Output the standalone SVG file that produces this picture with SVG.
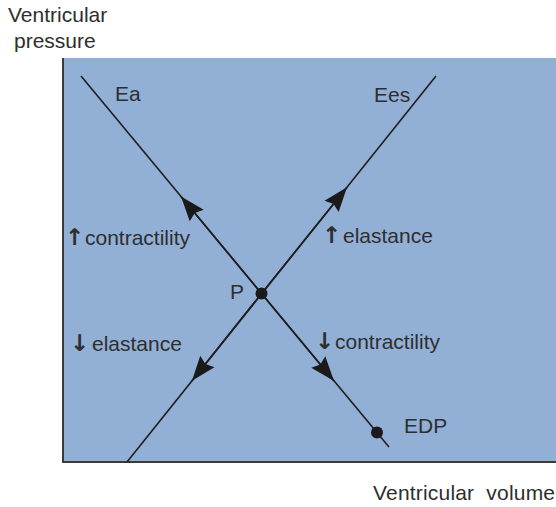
<svg xmlns="http://www.w3.org/2000/svg" width="556" height="507" viewBox="0 0 556 507">
<style>
  text { font-family: "Liberation Sans", Arial, sans-serif; font-size: 21px; fill: #2e2e2e; }
  .arr { font-family: "DejaVu Sans", sans-serif; font-size: 23px; font-weight: bold; }
  .curve { stroke: #1e1e1e; stroke-width: 1.6; fill: none; }
  .axis { stroke: #3a3a3a; stroke-width: 2; fill: none; }
  .dot { fill: #1a1a1a; }
</style>
<defs>
  <marker id="ah" markerUnits="userSpaceOnUse" markerWidth="30" markerHeight="30" viewBox="-24 -10 28 20" refX="0" refY="0" orient="auto">
    <path d="M0,0 L-23,-8.5 L-20,0 L-23,8.5 Z" fill="#1a1a1a"/>
  </marker>
</defs>
<rect id="panel" x="63" y="58" width="493" height="404" fill="#92b0d6"/>
<g id="axes">
  <line class="axis" x1="63" y1="58" x2="63" y2="463"/>
  <line class="axis" x1="62" y1="462" x2="556" y2="462"/>
</g>
<g id="connectors">
  <line id="Ea-line" class="curve" x1="81" y1="76" x2="389" y2="447"/>
  <line id="Ees-line" class="curve" x1="436" y1="76" x2="127" y2="462"/>
  <path class="curve" d="M261.5,293.5 L181,196.6" marker-end="url(#ah)"/>
  <path class="curve" d="M261.5,293.5 L347,187.2" marker-end="url(#ah)"/>
  <path class="curve" d="M261.5,293.5 L192,380.8" marker-end="url(#ah)"/>
  <path class="curve" d="M261.5,293.5 L334,381" marker-end="url(#ah)"/>
</g>
<g id="node-P">
  <circle class="dot" cx="261.5" cy="293.5" r="6"/>
  <text x="230" y="299">P</text>
</g>
<g id="node-EDP">
  <circle class="dot" cx="377" cy="432.5" r="6"/>
  <text x="404" y="433">EDP</text>
</g>
<g id="label-Ea"><text x="115" y="101">Ea</text></g>
<g id="label-Ees"><text x="374" y="102">Ees</text></g>
<g id="label-up-contractility"><text y="245"><tspan class="arr" x="65">↑</tspan><tspan x="85">contractility</tspan></text></g>
<g id="label-down-elastance"><text y="351"><tspan class="arr" x="70">↓</tspan><tspan x="92">elastance</tspan></text></g>
<g id="label-up-elastance"><text y="243"><tspan class="arr" x="322">↑</tspan><tspan x="343">elastance</tspan></text></g>
<g id="label-down-contractility"><text y="349"><tspan class="arr" x="315">↓</tspan><tspan x="335">contractility</tspan></text></g>
<g id="axis-labels">
  <text x="8" y="22">Ventricular</text>
  <text x="14" y="48">pressure</text>
  <text x="373" y="500" xml:space="preserve" textLength="182">Ventricular  volume</text>
</g>
</svg>
